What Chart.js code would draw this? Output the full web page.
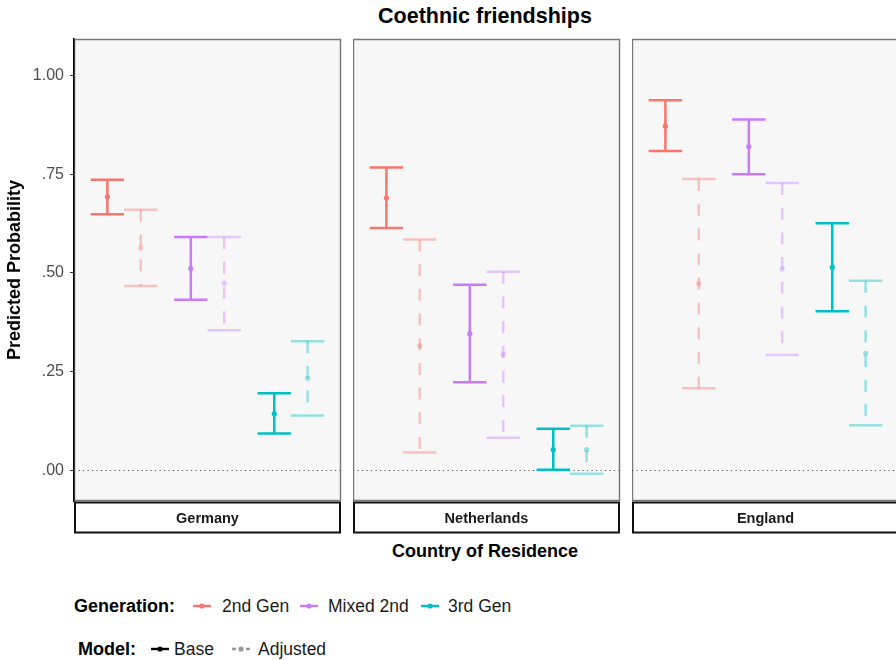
<!DOCTYPE html>
<html>
<head>
<meta charset="utf-8">
<title>Coethnic friendships</title>
<script src="https://cdn.jsdelivr.net/npm/chart.js@4/dist/chart.umd.min.js"></script>
<style>
  html, body { margin: 0; padding: 0; background: #fff; }
  #wrap { position: relative; width: 896px; height: 660px; overflow: hidden;
          font-family: "Liberation Sans", Arial, Helvetica, sans-serif; color: #000; }
  .panel { position: absolute; top: 30px; height: 510px; }
  #title { position: absolute; left: 74px; width: 822px; top: 4px; line-height: 24px;
           text-align: center; font-weight: bold; font-size: 21.5px; }
  #xtitle { position: absolute; left: 74px; width: 822px; top: 540px; line-height: 22px;
            text-align: center; font-weight: bold; font-size: 18px; }
  .lg { position: absolute; font-size: 17.5px; line-height: 20px; white-space: nowrap; color: #1a1a1a; }
  .lg.b { font-weight: bold; font-size: 18px; color: #000; }
  .key { position: absolute; }
</style>
</head>
<body>
<div id="wrap">
  <div id="title">Coethnic friendships</div>
  <canvas id="p0" class="panel" style="left:0px" width="342" height="510"></canvas>
  <canvas id="p1" class="panel" style="left:353px" width="268" height="510"></canvas>
  <canvas id="p2" class="panel" style="left:632px" width="268" height="510"></canvas>
  <div id="xtitle">Country of Residence</div>
  <div id="legend"></div>
</div>
<script>
// Facets, groups and models
const countries = ['Germany', 'Netherlands', 'England'];
const generations = ['2nd Gen', 'Mixed 2nd', '3rd Gen'];
const models = ['Base', 'Adjusted'];
const yTicks = [0, 0.25, 0.5, 0.75, 1];

// Predicted probabilities: one row per country, one column per generation
const baseEstimate = [[0.693, 0.511, 0.143], [0.690, 0.346, 0.052], [0.872, 0.820, 0.514]];
const baseLower    = [[0.649, 0.432, 0.093], [0.614, 0.223, 0.001], [0.809, 0.750, 0.403]];
const baseUpper    = [[0.736, 0.591, 0.195], [0.767, 0.470, 0.105], [0.938, 0.889, 0.626]];
const adjEstimate  = [[0.563, 0.474, 0.233], [0.315, 0.293, 0.052], [0.473, 0.510, 0.296]];
const adjLower     = [[0.467, 0.355, 0.139], [0.045, 0.082, -0.009], [0.208, 0.292, 0.114]];
const adjUpper     = [[0.660, 0.591, 0.327], [0.585, 0.503, 0.113], [0.738, 0.728, 0.480]];

const genColors = ['#F8766D', '#C77CFF', '#00BFC4'];
const FONT = '"Liberation Sans", Arial, Helvetica, sans-serif';
const DODGE = 0.2;

function withAlpha(hex, a) {
  const n = parseInt(hex.slice(1), 16);
  return `rgba(${(n >> 16) & 255},${(n >> 8) & 255},${n & 255},${a})`;
}

function tickText(v) {
  return v >= 1 ? v.toFixed(2) : v.toFixed(2).replace(/^0/, '');
}

// Panel background, frame, zero reference line and strip label
const panelDecor = {
  id: 'panelDecor',
  beforeDraw(chart, args, opts) {
    const { ctx, chartArea: a } = chart;
    ctx.save();
    ctx.fillStyle = '#f7f7f7';
    ctx.fillRect(a.left, a.top, a.right - a.left, a.bottom - a.top);
    ctx.strokeStyle = '#7a7a7a';
    ctx.lineWidth = 1.5;
    ctx.strokeRect(a.left + 0.5, a.top + 0.5, a.right - a.left - 1, a.bottom - a.top - 1);
    ctx.restore();
  },
  beforeDatasetsDraw(chart) {
    const { ctx, chartArea: a, scales: { y } } = chart;
    const y0 = Math.round(y.getPixelForValue(0)) + 0.5;
    ctx.save();
    ctx.strokeStyle = '#555';
    ctx.lineWidth = 1;
    ctx.setLineDash([1.2, 3.3]);
    ctx.beginPath();
    ctx.moveTo(a.left, y0);
    ctx.lineTo(a.right, y0);
    ctx.stroke();
    ctx.restore();
  },
  afterDraw(chart, args, opts) {
    const { ctx, chartArea: a } = chart;
    const top = a.bottom + 1.5, h = 30;
    ctx.save();
    ctx.fillStyle = '#fff';
    ctx.fillRect(a.left, top, a.right - a.left, h);
    ctx.strokeStyle = '#111';
    ctx.lineWidth = 2;
    ctx.strokeRect(a.left + 1, top, a.right - a.left - 2, h);
    ctx.fillStyle = '#1a1a1a';
    ctx.font = 'bold 14.5px ' + FONT;
    ctx.textAlign = 'center';
    ctx.textBaseline = 'middle';
    ctx.fillText(opts.label, (a.left + a.right) / 2, top + h / 2 + 1);
    ctx.restore();
  }
};

// Vertical interval with caps for every plotted estimate
const errorBars = {
  id: 'errorBars',
  beforeDatasetsDraw(chart) {
    const { ctx, scales: { x, y } } = chart;
    const half = x.getPixelForValue(1 + DODGE) - x.getPixelForValue(1);
    chart.data.datasets.forEach((ds, i) => {
      const meta = chart.getDatasetMeta(i);
      meta.data.forEach((pt, j) => {
        const raw = ds.data[j];
        const px = pt.x;
        const yHi = y.getPixelForValue(raw.hi);
        const yLo = y.getPixelForValue(raw.lo);
        ctx.save();
        ctx.strokeStyle = ds.borderColor;
        ctx.lineWidth = 2.5;
        ctx.beginPath();
        ctx.moveTo(px - half, yHi); ctx.lineTo(px + half, yHi);
        ctx.moveTo(px - half, yLo); ctx.lineTo(px + half, yLo);
        ctx.stroke();
        ctx.setLineDash(ds.stemDash);
        ctx.beginPath();
        ctx.moveTo(px, yHi); ctx.lineTo(px, yLo);
        ctx.stroke();
        ctx.restore();
      });
    });
  }
};

function buildDatasets(c) {
  const sets = [];
  generations.forEach((g, gi) => {
    models.forEach((m, mi) => {
      const base = mi === 0;
      const est = base ? baseEstimate : adjEstimate;
      const lo = base ? baseLower : adjLower;
      const hi = base ? baseUpper : adjUpper;
      const col = base ? genColors[gi] : withAlpha(genColors[gi], 0.4);
      sets.push({
        label: g + ' (' + m + ')',
        data: [{ x: gi + 1 + (base ? -DODGE : DODGE), y: est[c][gi], lo: lo[c][gi], hi: hi[c][gi] }],
        backgroundColor: col,
        borderColor: col,
        pointRadius: 2.6,
        pointBorderWidth: 0,
        showLine: false,
        stemDash: base ? [] : [12, 12.7]
      });
    });
  });
  return sets;
}

countries.forEach((country, c) => {
  const first = c === 0;
  new Chart(document.getElementById('p' + c), {
    type: 'scatter',
    data: { datasets: buildDatasets(c) },
    options: {
      responsive: false,
      animation: false,
      events: [],
      layout: { autoPadding: false, padding: { top: 9, bottom: 39, left: 0, right: 1 } },
      plugins: {
        legend: { display: false },
        tooltip: { enabled: false },
        title: { display: false },
        panelDecor: { label: country }
      },
      scales: {
        x: { type: 'linear', min: 0.4, max: 3.6, display: false },
        y: {
          type: 'linear',
          min: -0.078,
          max: 1.093,
          display: first,
          afterBuildTicks(scale) { scale.ticks = yTicks.map(v => ({ value: v })); },
          afterFit(scale) {
            if (first) {
              scale.width = 74;
              scale.paddingTop = 0;
              scale.paddingBottom = 0;
            }
          },
          ticks: {
            callback: v => tickText(v),
            color: '#4d4d4d',
            font: { family: FONT, size: 16 },
            padding: 6
          },
          grid: { drawOnChartArea: false, drawTicks: true, tickLength: 4, color: '#333', lineWidth: 1 },
          border: { display: true, color: '#000', width: 1.5 },
          title: {
            display: true,
            text: 'Predicted Probability',
            color: '#000',
            font: { family: FONT, size: 18, weight: 'bold' },
            padding: { top: 4, bottom: 0 }
          }
        }
      }
    },
    plugins: [panelDecor, errorBars]
  });
});

// Legend rows: generation colours and model line styles
(function buildLegend() {
  const host = document.getElementById('legend');
  function text(str, left, cy, bold) {
    const d = document.createElement('div');
    d.className = 'lg' + (bold ? ' b' : '');
    d.style.left = left + 'px';
    d.style.top = (cy - 10) + 'px';
    d.textContent = str;
    host.appendChild(d);
  }
  function key(left, cy, color, dashed) {
    const ns = 'http://www.w3.org/2000/svg';
    const s = document.createElementNS(ns, 'svg');
    s.setAttribute('width', '18'); s.setAttribute('height', '8');
    s.setAttribute('class', 'key');
    s.style.left = left + 'px'; s.style.top = (cy - 4) + 'px';
    const l = document.createElementNS(ns, 'line');
    l.setAttribute('x1', '0'); l.setAttribute('x2', '18');
    l.setAttribute('y1', '4'); l.setAttribute('y2', '4');
    l.setAttribute('stroke', color); l.setAttribute('stroke-width', '2.4');
    if (dashed) l.setAttribute('stroke-dasharray', '4 3');
    const p = document.createElementNS(ns, 'circle');
    p.setAttribute('cx', '9'); p.setAttribute('cy', '4'); p.setAttribute('r', '2.6');
    p.setAttribute('fill', color);
    s.appendChild(l); s.appendChild(p);
    host.appendChild(s);
  }
  const row1 = 606, row2 = 649;
  text('Generation:', 74, row1, true);
  const genKeyX = [193, 300, 421];
  const genTextX = [222, 328, 448];
  generations.forEach((g, i) => { key(genKeyX[i], row1, genColors[i], false); text(g, genTextX[i], row1, false); });
  text('Model:', 78, row2, true);
  key(151, row2, '#000', false); text(models[0], 174, row2, false);
  key(232, row2, '#999', true); text(models[1], 258, row2, false);
})();
</script>
</body>
</html>
